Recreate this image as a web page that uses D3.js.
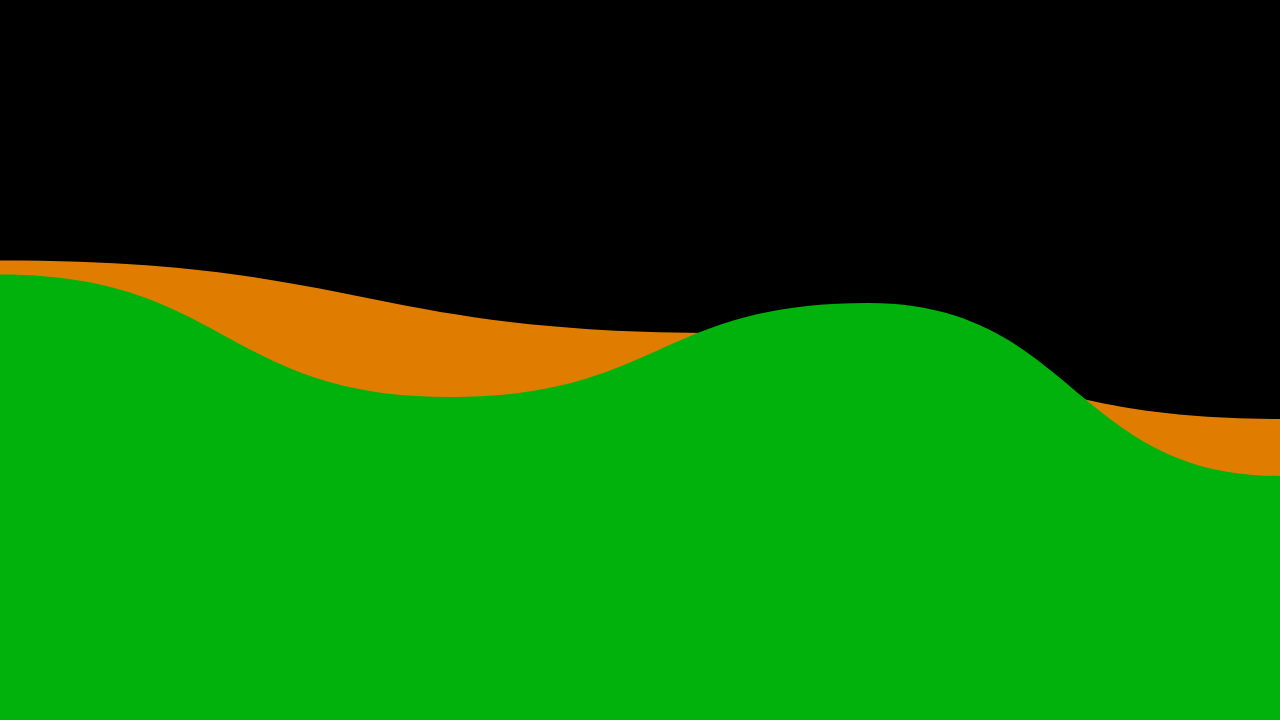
<!DOCTYPE html>
<html>
<head>
<meta charset="utf-8">
<script src="https://cdn.jsdelivr.net/npm/d3@7"></script>
<style>
    html, body { margin: 0; padding: 0; background: #000; overflow: hidden; }
    svg { display: block; }
</style>
</head>
<body>
<div id="chart"></div>
<script>
// 橙色波形的关键点（横坐标 0-100，纵坐标 0-720）
let orangeX = [0, 56.4, 100];
let orangeValues = [459.5, 387, 301];
// 绿色波形的关键点
let greenX = [0, 35.1, 67.8, 100];
let greenValues = [445.5, 323, 417, 244];
let seriesColors = ['#e07c00', '#00b20b'];

let width = 1280, height = 720;

let svg = d3.select('#chart').append('svg')
    .attr('width', width)
    .attr('height', height);

svg.append('rect')
    .attr('width', width)
    .attr('height', height)
    .attr('fill', '#000');

let x = d3.scaleLinear()
    .domain([0, 100])
    .range([0, width]);

let y = d3.scaleLinear()
    .domain([0, 720])
    .range([height, 0]);

//面积生成器，每两点之间一段平滑的贝塞尔
let area = d3.area()
    .x(function (d) { return x(d.x) })
    .y0(y(0))
    .y1(function (d) { return y(d.value) })
    .curve(d3.curveBumpX);

let series = [
    orangeX.map(function (v, i) { return {x: v, value: orangeValues[i]} }),
    greenX.map(function (v, i) { return {x: v, value: greenValues[i]} })
];

svg.selectAll('path.area')
    .data(series)
    .enter()
    .append('path')
    .attr('class', 'area')
    .attr('d', area)
    .style('fill', function (d, i) { return seriesColors[i] });
</script>
</body>
</html>
